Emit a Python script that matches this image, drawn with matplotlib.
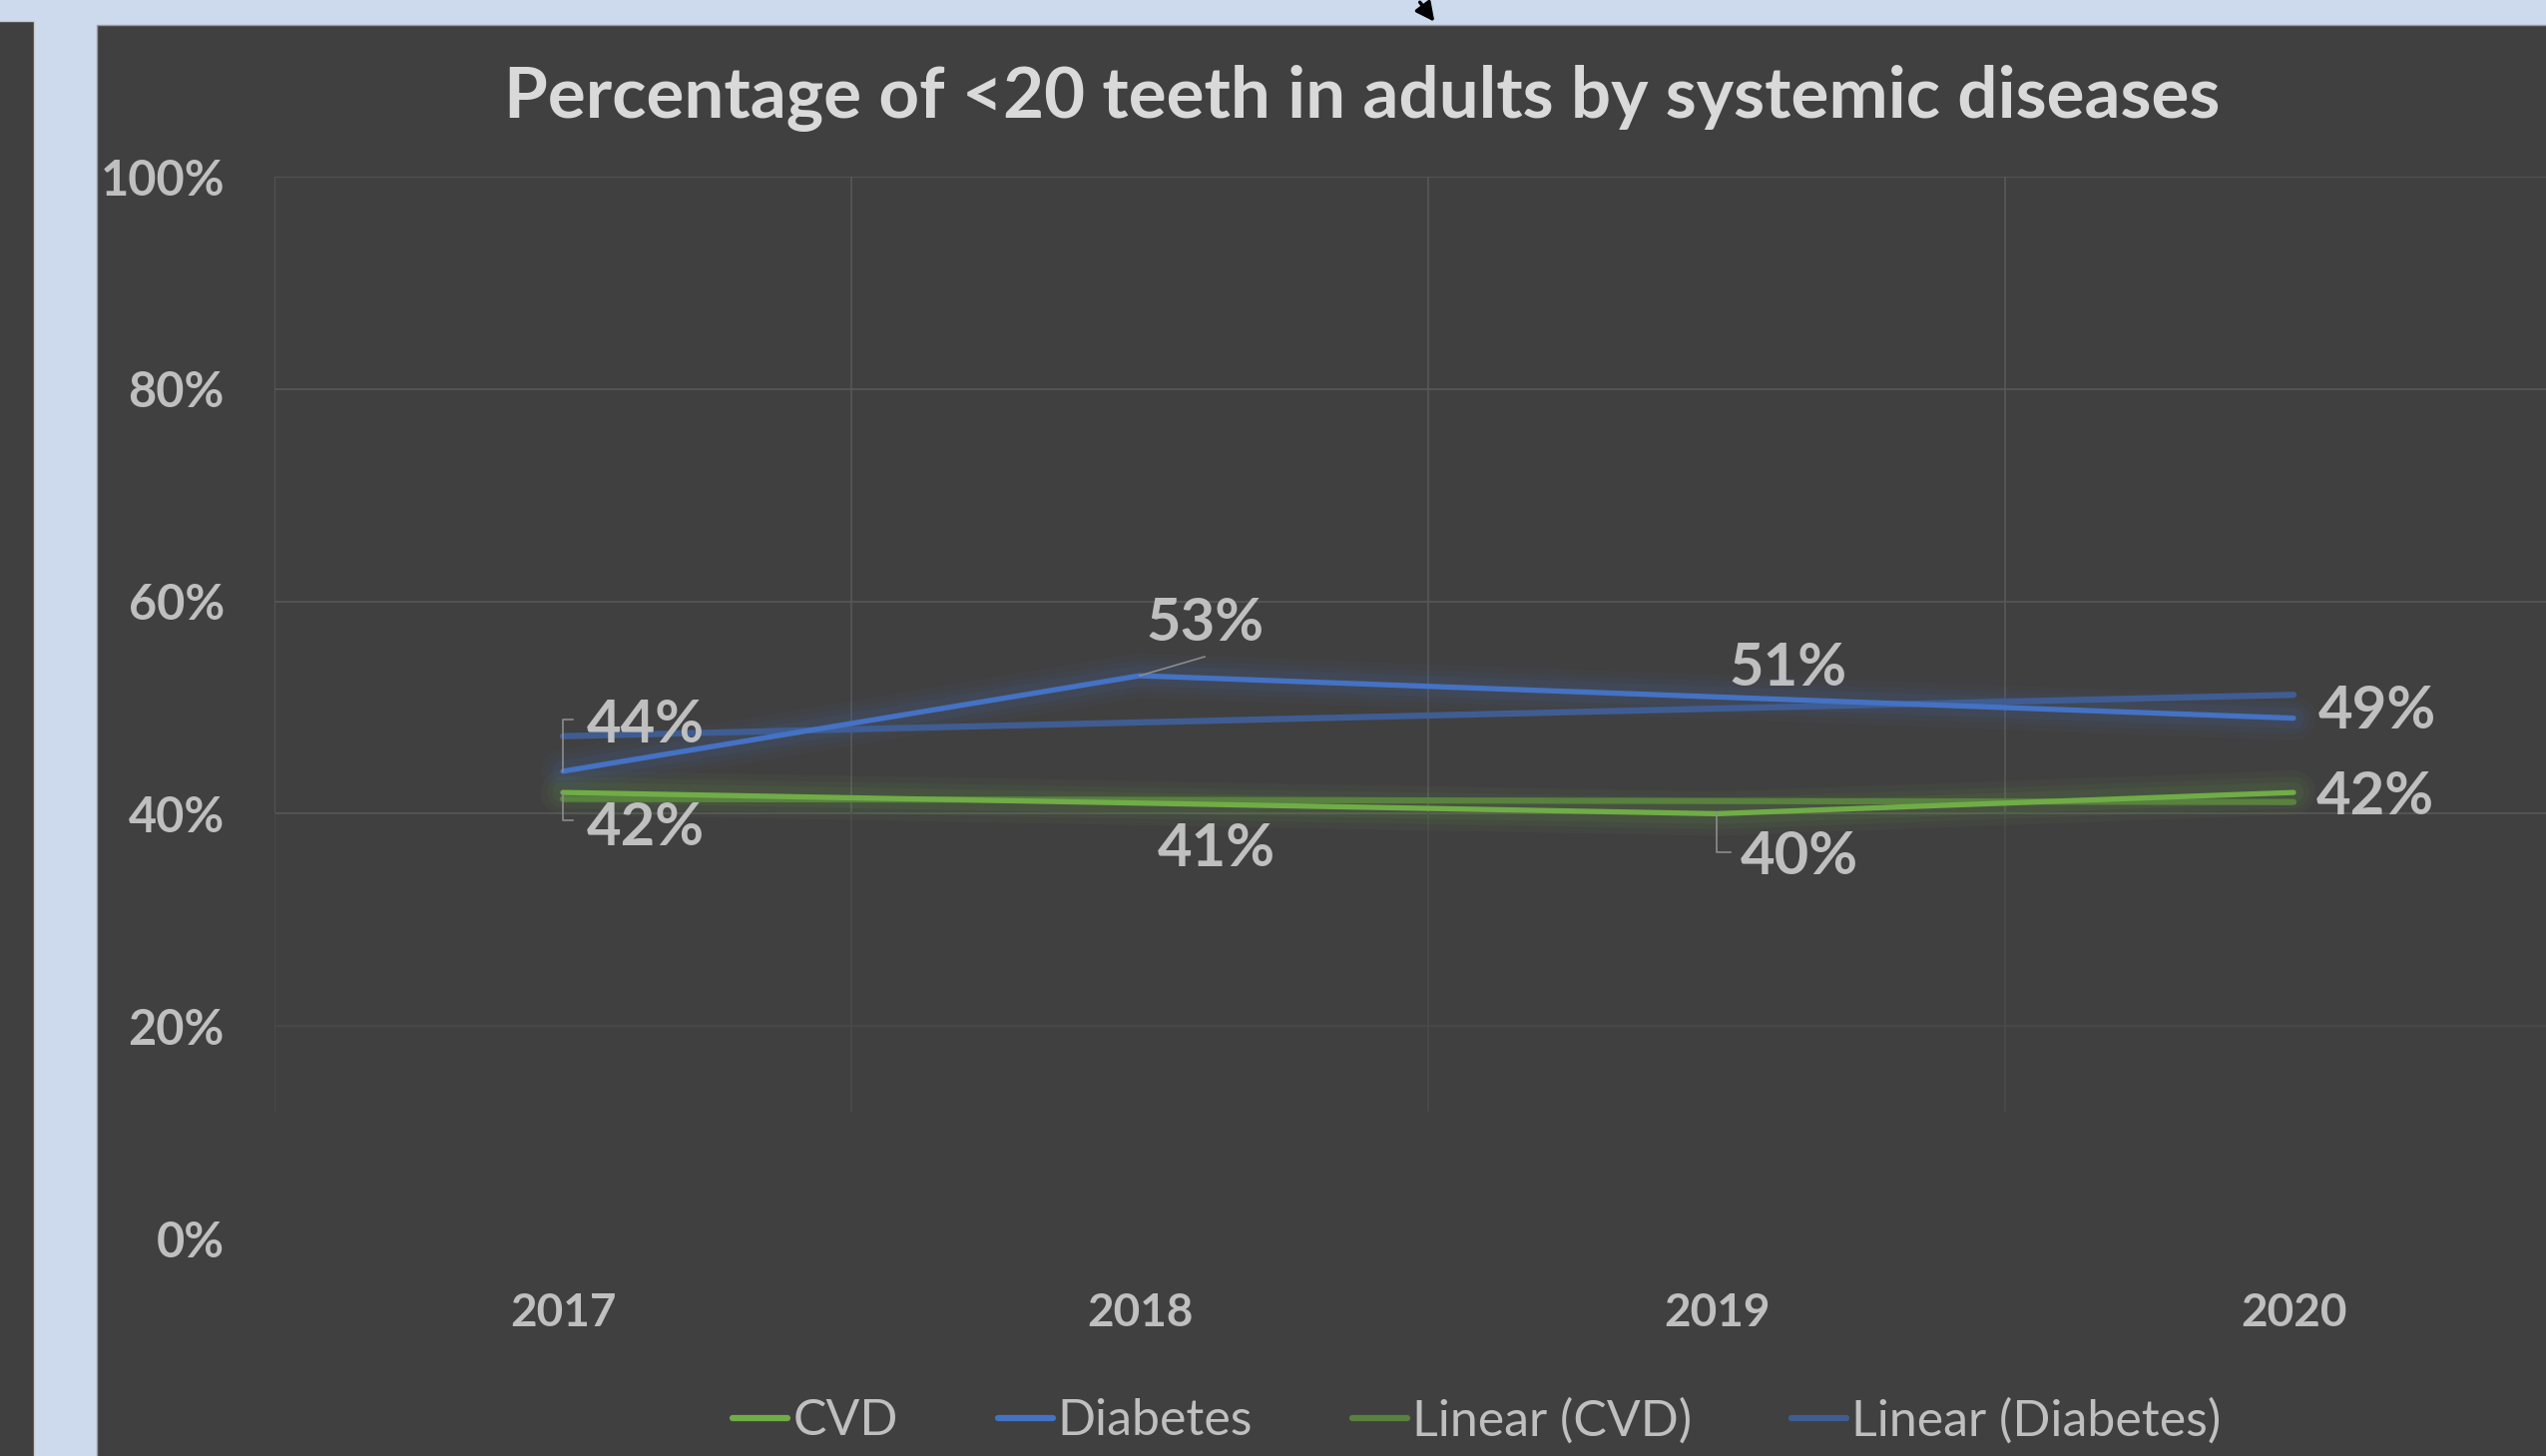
import numpy as np
import matplotlib
matplotlib.use("Agg")
import matplotlib.pyplot as plt
from matplotlib.patches import Rectangle, FancyArrowPatch

# フォントと基本スタイル
plt.rcParams.update(
    {
        "font.family": ["Lato", "DejaVu Sans"],
        "axes.linewidth": 0,
        "savefig.dpi": 100,
    }
)

# データ
years = ["2017", "2018", "2019", "2020"]
cvd = [0.42, 0.41, 0.40, 0.42]
diabetes = [0.44, 0.53, 0.51, 0.49]
y_ticks = [0.0, 0.2, 0.4, 0.6, 0.8, 1.0]
y_tick_labels = ["0%", "20%", "40%", "60%", "80%", "100%"]
title = "Percentage of <20 teeth in adults by systemic diseases"

# 色
bg_blue = "#CDDAEE"
panel = "#404040"
text_gray = "#BFBFBF"
grid_col = "#575757"
c_cvd = "#70AD47"
c_dia = "#4472C4"
c_cvd_trend = "#59813F"
c_dia_trend = "#3F5D93"

W, H = 2551, 1459
fig = plt.figure(figsize=(W / 100, H / 100), dpi=100, facecolor=bg_blue)

# 背景パネル（左の暗い帯とメインパネル）
fig.patches.append(
    Rectangle((-0.01, -0.01), 0.01 + 34 / W, 1.01 - 21 / H, transform=fig.transFigure,
              facecolor=panel, edgecolor="#C8C8C8", lw=1, zorder=-10)
)
fig.patches.append(
    Rectangle((97 / W, -0.01), 1.0, 1.01 - 25 / H, transform=fig.transFigure,
              facecolor=panel, edgecolor="#9A9A9A", lw=1, zorder=-10)
)

# 上部の矢印
fig.patches.append(
    FancyArrowPatch((1421 / W, 1.0), (1439 / W, 1 - 24 / H), transform=fig.transFigure,
                    arrowstyle="-|>", mutation_scale=28, color="black", lw=2.5, zorder=-5)
)

# タイトル
fig.text(1365 / W, 1 - 99 / H, title, ha="center", va="center",
         fontsize=51, fontweight="bold", color="#D9D9D9")

ax = fig.add_axes([275 / W, 1 - 1241 / H, 2312 / W, 1064 / H])
ax.set_facecolor("none")
ax.set_xlim(-0.5, 3.5)
ax.set_ylim(0, 1)
for s in ax.spines.values():
    s.set_visible(False)

x = np.arange(len(years))

# グリッド（下の方は薄くなる）
for yv in y_ticks[1:]:
    ax.axhline(yv, color=grid_col if yv > 0.3 else "#4A4A4A", lw=1.2, zorder=1)
for xb in [-0.5, 0.5, 1.5, 2.5, 3.5]:
    ax.plot([xb, xb], [0.4, 1.0], color=grid_col, lw=1.2, zorder=1)
    ax.plot([xb, xb], [0.12, 0.4], color="#4A4A4A", lw=1.2, zorder=1)

# 線形トレンド
tr_cvd = np.polyval(np.polyfit(x, cvd, 1), x)
tr_dia = np.polyval(np.polyfit(x, diabetes, 1), x)
l_tcvd, = ax.plot(x, tr_cvd, color=c_cvd_trend, lw=4.5, solid_capstyle="round", zorder=3)
l_tdia, = ax.plot(x, tr_dia, color=c_dia_trend, lw=4.5, solid_capstyle="round", zorder=3)

# 系列（グロー効果つき）
for vals, col in [(cvd, c_cvd), (diabetes, c_dia)]:
    for lw, a in [(32, 0.05), (23, 0.06), (15, 0.09)]:
        ax.plot(x, vals, color=col, lw=lw, alpha=a, solid_capstyle="round",
                solid_joinstyle="round", zorder=2)
l_cvd, = ax.plot(x, cvd, color=c_cvd, lw=3.8, solid_capstyle="round", zorder=4)
l_dia, = ax.plot(x, diabetes, color=c_dia, lw=3.8, solid_capstyle="round", zorder=4)

# 目盛り
ax.set_yticks(y_ticks)
ax.set_yticklabels(y_tick_labels)
ax.set_xticks(x)
ax.set_xticklabels(years)
ax.tick_params(axis="y", length=0, pad=36, labelsize=35, labelcolor=text_gray)
ax.tick_params(axis="x", length=0, pad=39, labelsize=33, labelcolor=text_gray)
for lab in ax.get_xticklabels() + ax.get_yticklabels():
    lab.set_fontweight("bold")

# データラベル（ピクセルオフセット）と引き出し線
label_offsets = {
    ("dia", 0): (83, 46), ("cvd", 0): (83, -36),
    ("dia", 1): (66, 52), ("cvd", 1): (77, -46),
    ("dia", 2): (72, 28), ("cvd", 2): (83, -44),
    ("dia", 3): (84, 7), ("cvd", 3): (82, -5),
}
leaders = {
    ("dia", 0): [(0, 0), (0, 52), (10, 52)],
    ("cvd", 0): [(0, 0), (0, -28), (10, -28)],
    ("dia", 1): [(0, 0), (65, 19)],
    ("cvd", 2): [(0, 0), (0, -39), (14, -39)],
}
series = {"cvd": cvd, "dia": diabetes}
inv = ax.transData.inverted()
for (key, i), (dx, dy) in label_offsets.items():
    v = series[key][i]
    ax.annotate(f"{v * 100:.0f}%", (i, v), xytext=(dx, dy), textcoords="offset pixels",
                ha="center", va="center", fontsize=43, fontweight="bold",
                color=text_gray, zorder=6, annotation_clip=False)
    if (key, i) in leaders:
        p = ax.transData.transform((i, v))
        pts = inv.transform([(p[0] + ox, p[1] + oy) for ox, oy in leaders[(key, i)]])
        ax.plot(pts[:, 0], pts[:, 1], color="#8C8C8C", lw=1.2, zorder=5)

# 凡例
leg = ax.legend(
    handles=[l_cvd, l_dia, l_tcvd, l_tdia],
    labels=["CVD", "Diabetes", "Linear (CVD)", "Linear (Diabetes)"],
    loc="center", bbox_to_anchor=(1480 / W, 1 - 1424 / H), bbox_transform=fig.transFigure,
    ncol=4, frameon=False, fontsize=36, handlelength=1.1, handletextpad=0.1,
    columnspacing=2.0, labelcolor=text_gray,
)
for h in leg.get_lines():
    h.set_linewidth(4.5)

plt.savefig("out.png", dpi=100, facecolor=fig.get_facecolor())
